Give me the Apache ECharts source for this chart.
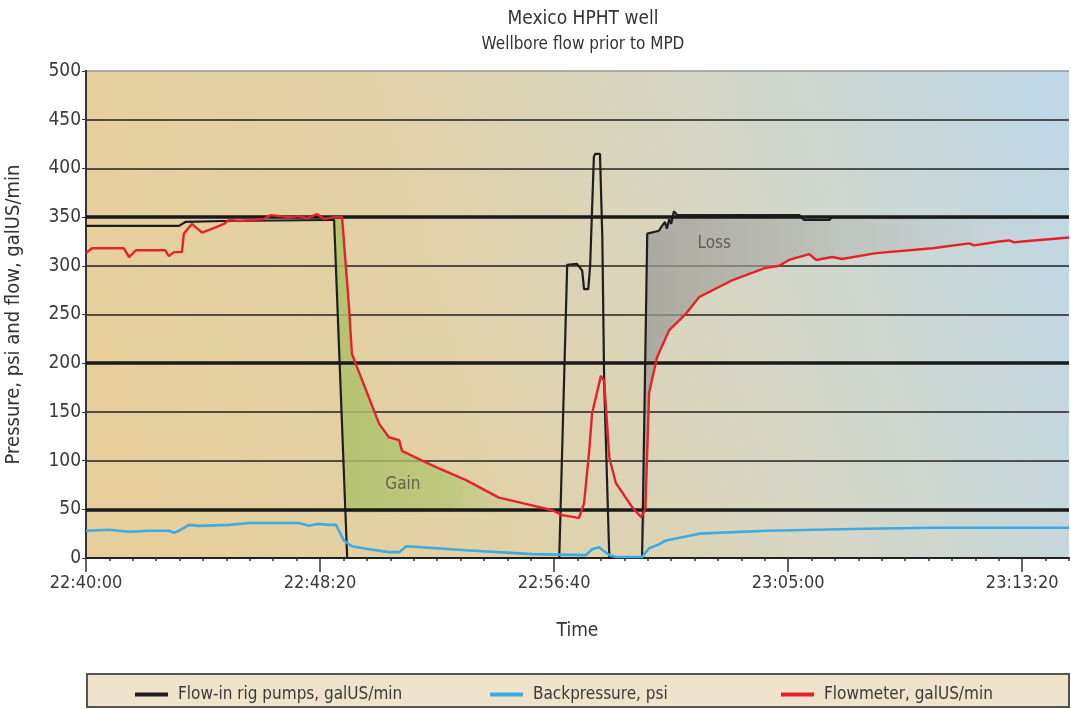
<!DOCTYPE html>
<html>
<head>
<meta charset="utf-8">
<script src="https://cdn.jsdelivr.net/npm/echarts@6/dist/echarts.min.js"></script>
<style>
html,body{margin:0;padding:0;background:#fff;}
#chart{width:1071px;height:709px;}
</style>
</head>
<body>
<div id="chart"></div>
<script>
// ---- Data (time in seconds after 22:40:00) ----
const titleText = 'Mexico HPHT well';
const subtitleText = 'Wellbore flow prior to MPD';
const xTickSeconds = [0, 500, 1000, 1500, 2000];
const yTickValues = [0, 50, 100, 150, 200, 250, 300, 350, 400, 450, 500];

const flowInTimes  = [0, 199, 212, 295, 519, 530, 558, 1011, 1028, 1049, 1060, 1064, 1073, 1077, 1085, 1088, 1098, 1103, 1107, 1118, 1188, 1199, 1224, 1229, 1233, 1237, 1241, 1246, 1250, 1256, 1263, 1524, 1534, 1588, 1594, 2100];
const flowInValues = [341, 341, 345, 346, 347, 347, 0, 0, 301, 302, 295, 276, 276, 300, 412, 415, 415, 330, 180, 0, 0, 333, 336, 340, 340, 345, 338, 348, 343, 356, 352, 352, 347, 347, 350, 350];

const backTimes  = [0, 49, 92, 135, 177, 188, 199, 220, 241, 306, 348, 455, 476, 494, 519, 534, 551, 568, 605, 647, 669, 684, 812, 953, 1068, 1081, 1096, 1107, 1118, 1132, 1188, 1203, 1224, 1239, 1310, 1453, 1667, 1808, 2100];
const backValues = [28, 29, 27, 28, 28, 26, 28, 34, 33, 34, 36, 36, 33, 35, 34, 34, 18, 12, 9, 6, 6, 12, 8, 4, 3, 9, 11, 7, 3, 1, 1, 10, 14, 18, 25, 28, 30, 31, 31];

const flowTimes  = [0, 13, 81, 92, 107, 169, 177, 188, 205, 209, 226, 248, 274, 295, 306, 327, 380, 395, 434, 455, 472, 494, 509, 530, 547, 562, 568, 579, 626, 647, 669, 675, 727, 754, 812, 882, 953, 996, 1017, 1043, 1053, 1064, 1075, 1081, 1100, 1107, 1118, 1132, 1167, 1186, 1195, 1203, 1220, 1246, 1282, 1310, 1380, 1453, 1481, 1502, 1545, 1560, 1594, 1615, 1688, 1808, 1887, 1897, 1951, 1972, 1983, 2000, 2100];
const flowValues = [313, 318, 318, 309, 316, 316, 310, 314, 314, 333, 343, 334, 339, 343, 347, 346, 348, 352, 350, 351, 349, 353, 348, 350, 350, 257, 210, 196, 138, 124, 121, 110, 98, 92, 80, 62, 54, 49, 44, 42, 41, 56, 110, 148, 187, 182, 103, 77, 52, 42, 50, 170, 206, 234, 251, 268, 285, 298, 300, 306, 312, 306, 309, 307, 313, 318, 323, 321, 325, 326, 324, 325, 329];

const seriesNames = ['Flow-in rig pumps, galUS/min', 'Backpressure, psi', 'Flowmeter, galUS/min'];
const annotationLabels = ['Gain', 'Loss'];
const annotationTimes  = [677, 1342];
const annotationValues = [75, 323];

const gainRange = [530, 985];  const gainFloor = 47;
const lossRange = [1188, 2100];

// ---- helpers ----
const FONT = "'Liberation Sans Narrow', 'DejaVu Sans Condensed', 'Liberation Sans', sans-serif";
function fmtTime(s) {
  let tot = 22 * 3600 + 40 * 60 + s;
  const h = Math.floor(tot / 3600) % 24, m = Math.floor((tot % 3600) / 60), sec = tot % 60;
  const p = n => (n < 10 ? '0' : '') + n;
  return p(h) + ':' + p(m) + ':' + p(sec);
}
function pairs(ts, vs) { return ts.map((t, i) => [t, vs[i]]); }
function interp(ts, vs, t) {
  if (t <= ts[0]) return vs[0];
  for (let i = 1; i < ts.length; i++) {
    if (t <= ts[i]) { const f = (t - ts[i-1]) / (ts[i] - ts[i-1]); return vs[i-1] + f * (vs[i] - vs[i-1]); }
  }
  return vs[vs.length - 1];
}
function unionTimes(a, b, range) {
  const s = new Set([range[0], range[1]]);
  a.concat(b).forEach(t => { if (t >= range[0] && t <= range[1]) s.add(t); });
  return Array.from(s).sort((x, y) => x - y);
}
function gainPolygon() {
  const ts = unionTimes(flowInTimes, flowTimes, gainRange);
  const up = [], lo = [];
  ts.forEach(t => {
    const r = interp(flowTimes, flowValues, t);
    const l = Math.max(interp(flowInTimes, flowInValues, t), gainFloor);
    up.push([t, Math.max(r, l)]); lo.push([t, l]);
  });
  return up.concat(lo.reverse());
}
function lossPolygon() {
  const ts = unionTimes(flowInTimes, flowTimes, lossRange);
  const up = [], lo = [];
  ts.forEach(t => {
    const b = interp(flowInTimes, flowInValues, t);
    const r = interp(flowTimes, flowValues, t);
    up.push([t, b]); lo.push([t, Math.min(r, b)]);
  });
  return up.concat(lo.reverse());
}
function polySeries(name, poly, stops) {
  return {
    type: 'custom', name: name, silent: true, z: 1,
    data: [[poly[0][0], poly[0][1]]],
    renderItem: function (params, api) {
      const pts = poly.map(p => api.coord(p));
      return { type: 'polygon', shape: { points: pts },
        style: { fill: new echarts.graphic.LinearGradient(0, 0, 1, 0, stops) } };
    }
  };
}

const chart = echarts.init(document.getElementById('chart'));
const axisColor = '#222';
const option = {
  animation: false,
  backgroundColor: '#ffffff',
  textStyle: { fontFamily: FONT },
  title: [
    { text: titleText, left: 578, top: 5, textAlign: 'center',
      textStyle: { fontFamily: FONT, fontSize: 19, fontWeight: 'normal', color: '#333' } },
    { text: subtitleText, left: 578, top: 31, textAlign: 'center',
      textStyle: { fontFamily: FONT, fontSize: 17, fontWeight: 'normal', color: '#333' } }
  ],
  grid: { left: 86, right: 2, top: 71, bottom: 151, show: true, borderWidth: 0,
    outerBoundsMode: 'none', containLabel: false,
    backgroundColor: new echarts.graphic.LinearGradient(0, 0.75, 1, 0.15, [
      { offset: 0, color: '#e6cf9a' }, { offset: 0.35, color: '#e2d1a6' },
      { offset: 0.65, color: '#d6d6c4' }, { offset: 1, color: '#bfd8e7' }]) },
  legend: seriesNames.map((n, i) => ({
    data: [n], left: [130, 485, 776][i], top: 681, icon: 'rect', itemWidth: 33, itemHeight: 4,
    selectedMode: false,
    textStyle: { fontFamily: FONT, fontSize: 17, color: '#3a3a3a', padding: [0, 0, 0, 5] }
  })),
  graphic: [
    { type: 'rect', z: -1, shape: { x: 87, y: 674, width: 982, height: 33 },
      style: { fill: '#efe4cb', stroke: '#555', lineWidth: 2 } }
  ],
  xAxis: [
    { type: 'value', min: 0, max: 2100, interval: 50,
      name: 'Time', nameLocation: 'middle', nameGap: 64,
      nameTextStyle: { fontFamily: FONT, fontSize: 19, color: '#333' },
      axisLine: { show: true, lineStyle: { color: axisColor, width: 2 } },
      axisTick: { show: true, length: 3, lineStyle: { color: '#333', width: 1.5 } },
      axisLabel: { margin: 16, fontFamily: FONT, fontSize: 18, color: '#3a3a3a',
        formatter: v => (xTickSeconds.indexOf(v) >= 0 ? fmtTime(v) : '') },
      splitLine: { show: false } },
    { type: 'value', min: 0, max: 2100, position: 'bottom',
      axisLine: { show: false },
      axisTick: { show: true, length: 14, customValues: xTickSeconds, lineStyle: { color: '#333', width: 1.5 } },
      axisLabel: { show: false }, splitLine: { show: false } }
  ],
  yAxis: [
    { type: 'value', min: 0, max: 500, interval: 50,
      name: 'Pressure, psi and flow, galUS/min', nameLocation: 'middle', nameGap: 62,
      nameTextStyle: { fontFamily: FONT, fontSize: 20, color: '#333' },
      axisLine: { show: true, lineStyle: { color: axisColor, width: 2 } },
      axisTick: { show: true, length: 4, lineStyle: { color: '#333' } },
      axisLabel: { margin: 5, fontFamily: FONT, fontSize: 19, color: '#3a3a3a' },
      splitLine: { show: true, lineStyle: { width: 1.6,
        color: ['#222', '#222', '#222', '#222', '#222', '#222', '#222', '#222', '#222', '#222', '#999'] } } },
    { type: 'value', min: 0, max: 500, position: 'right',
      axisLine: { show: true, lineStyle: { color: '#333', width: 2 } },
      axisTick: { show: false }, axisLabel: { show: false }, splitLine: { show: false } }
  ],
  series: [
    polySeries('gainArea', gainPolygon(), [
      { offset: 0, color: 'rgba(172,192,105,0.85)' }, { offset: 0.55, color: 'rgba(176,196,112,0.7)' },
      { offset: 1, color: 'rgba(190,205,140,0.05)' }]),
    polySeries('lossArea', lossPolygon(), [
      { offset: 0, color: 'rgba(155,155,152,0.75)' }, { offset: 0.35, color: 'rgba(165,166,162,0.55)' },
      { offset: 0.8, color: 'rgba(180,185,185,0.15)' }, { offset: 1, color: 'rgba(190,195,200,0)' }]),
    { name: seriesNames[0], type: 'line', data: pairs(flowInTimes, flowInValues), symbol: 'none', z: 3,
      lineStyle: { color: '#1e1e1e', width: 2.2 }, itemStyle: { color: '#1e1e1e' },
      markLine: { silent: true, symbol: 'none', label: { show: false },
        lineStyle: { color: '#1a1a1a', width: 3.5, type: 'solid' },
        data: [{ yAxis: 50 }, { yAxis: 200 }, { yAxis: 350 }] } },
    { name: seriesNames[1], type: 'line', data: pairs(backTimes, backValues), symbol: 'none', z: 4,
      lineStyle: { color: '#3fa9e1', width: 2.6 }, itemStyle: { color: '#3fa9e1' } },
    { name: seriesNames[2], type: 'line', data: pairs(flowTimes, flowValues), symbol: 'none', z: 5,
      lineStyle: { color: '#e5222b', width: 2.4 }, itemStyle: { color: '#e5222b' } },
    { name: 'annotations', type: 'scatter', symbolSize: 0, silent: true, z: 6,
      data: annotationTimes.map((t, i) => ({ value: [t, annotationValues[i]], name: annotationLabels[i] })),
      label: { show: true, position: 'inside', formatter: p => p.name,
        fontFamily: FONT, fontSize: 17, color: '#4a4a40' } }
  ]
};
chart.setOption(option);
</script>
</body>
</html>
